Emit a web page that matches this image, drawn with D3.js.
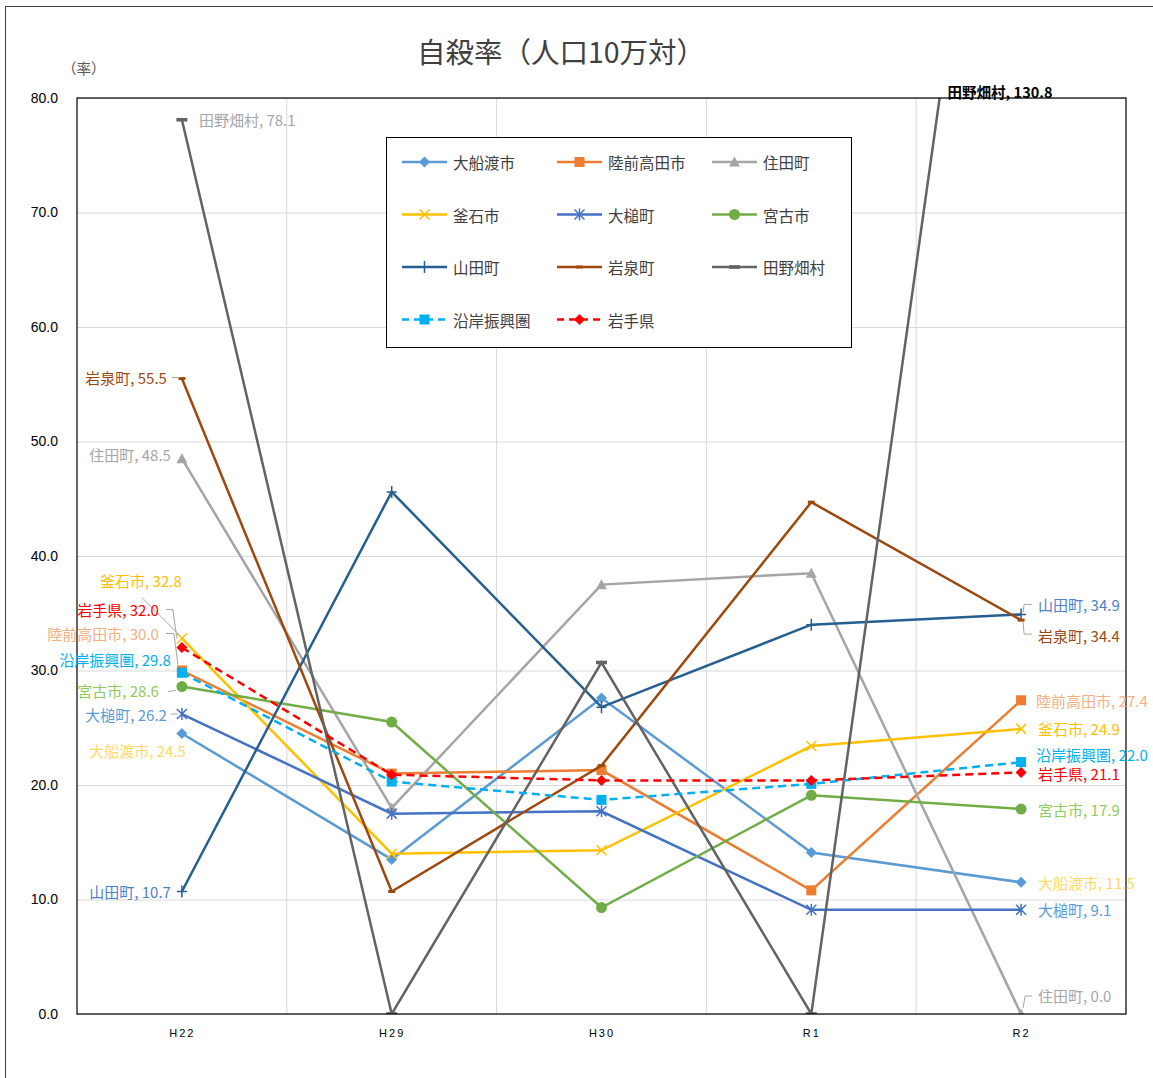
<!DOCTYPE html>
<html>
<head>
<meta charset="utf-8">
<script src="https://cdn.jsdelivr.net/npm/d3@7"></script>
<style>
  body { margin: 0; background: #fff; }
  svg { font-family: "Noto Sans CJK JP", "Noto Sans", sans-serif; }
  .grid line { stroke: #d9d9d9; stroke-width: 1; }
  .grid .domain { display: none; }
  .y-axis text { font-size: 14px; fill: #000; }
  .x-axis text { font-size: 11px; fill: #000; letter-spacing: 2px; }
  .label { font-size: 15px; dominant-baseline: central; }
  .leader { fill: none; stroke: #a6a6a6; stroke-width: 1; }
</style>
</head>
<body>
<div id="wrapper"></div>
<script>
// 1. Data

const categories = ["H22", "H29", "H30", "R1", "R2"];
const seriesNames = ["大船渡市", "陸前高田市", "住田町", "釜石市", "大槌町", "宮古市",
                     "山田町", "岩泉町", "田野畑村", "沿岸振興圏", "岩手県"];

const ofunato      = [24.5, 13.5, 27.6, 14.1, 11.5];
const rikuzentakata= [30.0, 21.0, 21.3, 10.8, 27.4];
const sumita       = [48.5, 18.0, 37.5, 38.5, 0.0];
const kamaishi     = [32.8, 14.0, 14.3, 23.4, 24.9];
const otsuchi      = [26.2, 17.5, 17.7, 9.1, 9.1];
const miyako       = [28.6, 25.5, 9.3, 19.1, 17.9];
const yamada       = [10.7, 45.6, 26.8, 34.0, 34.9];
const iwaizumi     = [55.5, 10.7, 21.7, 44.7, 34.4];
const tanohata     = [78.1, 0.0, 30.7, 0.0, 130.8];
const engan        = [29.8, 20.3, 18.7, 20.1, 22.0];
const iwate        = [32.0, 20.9, 20.4, 20.4, 21.1];

const seriesValues = [ofunato, rikuzentakata, sumita, kamaishi, otsuchi, miyako,
                      yamada, iwaizumi, tanohata, engan, iwate];

// styles per series
const lineColors  = ["#5b9bd5", "#ed7d31", "#a5a5a5", "#ffc000", "#4472c4", "#70ad47",
                     "#255e91", "#9e480e", "#636363", "#00b0f0", "#ff0000"];
const labelColors = ["#ffd966", "#f4b183", "#a6a6a6", "#ffc000", "#5b9bd5", "#8fcb5e",
                     "#4f81c9", "#9e480e", "#a6a6a6", "#00b0f0", "#ff0000"];
const markerTypes = ["diamond", "square", "triangle", "x", "asterisk", "circle",
                     "plus", "smallbar", "bar", "square", "diamond"];
const dashed      = [false, false, false, false, false, false, false, false, false, true, true];

// label placement for first (H22) and last (R2) points, offsets from the point
const firstLabels = [
  { dx: 4,   dy: 17,  anchor: "end" },
  { dx: -23, dy: -37, anchor: "end", leader: [[-16, -37], [-8, -37], [-4, -6]] },
  { dx: -11, dy: -4,  anchor: "end" },
  { dx: -41, dy: -58, anchor: "middle", leader: [[-40, -41], [-2, -3]] },
  { dx: -15, dy: 0,   anchor: "end", leader: [[-11, 0], [-4, 0]] },
  { dx: -23, dy: 4,   anchor: "end", leader: [[-14, 5], [-6, 4]] },
  { dx: -11, dy: 0,   anchor: "end" },
  { dx: -15, dy: -1,  anchor: "end", leader: [[-10, -1], [-2, -1]] },
  { dx: 17,  dy: 0,   anchor: "start" },
  { dx: -11, dy: -13, anchor: "end" },
  { dx: -23, dy: -38, anchor: "end", leader: [[-16, -38], [-9, -38], [-5, -9]] },
];
const lastLabels = [
  { dx: 17, dy: 0 },
  { dx: 15, dy: 0 },
  { dx: 17, dy: -19, leader: [[2, -6], [4, -18], [11, -18]] },
  { dx: 17, dy: 0 },
  { dx: 17, dy: 0 },
  { dx: 17, dy: 0 },
  { dx: 17, dy: -10, leader: [[2, -2], [3, -10], [11, -10]] },
  { dx: 17, dy: 15,  leader: [[2, 2], [3, 14], [11, 14]] },
  null, // off-chart value, placed at the top edge
  { dx: 15, dy: -8 },
  { dx: 17, dy: 1 },
];

// 2. Dimensions

const dimensions = {
  width: 1153,
  height: 1078,
  margin: { top: 98, right: 27, bottom: 64, left: 77 },
};
dimensions.boundedWidth = dimensions.width - dimensions.margin.left - dimensions.margin.right;
dimensions.boundedHeight = dimensions.height - dimensions.margin.top - dimensions.margin.bottom;

// 3. Canvas

const wrapper = d3.select("#wrapper")
  .append("svg")
    .attr("width", dimensions.width)
    .attr("height", dimensions.height);

wrapper.append("rect")
    .attr("x", 5.5).attr("y", 6.5)
    .attr("width", 1300).attr("height", 1300)
    .attr("fill", "none")
    .attr("stroke", "#404040");

wrapper.append("text")
    .attr("x", 561).attr("y", 50)
    .attr("text-anchor", "middle")
    .attr("dominant-baseline", "central")
    .style("font-size", "28.5px")
    .attr("fill", "#404040")
    .text("自殺率（人口10万対）");

wrapper.append("text")
    .attr("x", 62).attr("y", 67)
    .attr("dominant-baseline", "central")
    .style("font-size", "14.5px")
    .attr("fill", "#595959")
    .text("（率）");

const bounds = wrapper.append("g")
    .attr("transform", `translate(${dimensions.margin.left}, ${dimensions.margin.top})`);

bounds.append("clipPath")
    .attr("id", "plot-clip")
  .append("rect")
    .attr("width", dimensions.boundedWidth)
    .attr("height", dimensions.boundedHeight);

// 4. Scales

const xScale = d3.scalePoint()
  .domain(categories)
  .range([0, dimensions.boundedWidth])
  .padding(0.5);

const yScale = d3.scaleLinear()
  .domain([0, 80])
  .range([dimensions.boundedHeight, 0]);

const yTicks = d3.range(0, 81, 10);

// 5. Gridlines + axes

bounds.append("g")
    .attr("class", "grid")
  .call(d3.axisLeft(yScale).tickValues(yTicks).tickSize(-dimensions.boundedWidth).tickFormat(""));

const step = xScale.step();
bounds.append("g")
    .attr("class", "grid")
  .selectAll("line")
  .data(categories.slice(0, -1))
  .join("line")
    .attr("x1", d => xScale(d) + step / 2)
    .attr("x2", d => xScale(d) + step / 2)
    .attr("y1", 0)
    .attr("y2", dimensions.boundedHeight);

const yAxis = bounds.append("g")
    .attr("class", "y-axis")
  .call(d3.axisLeft(yScale).tickValues(yTicks).tickFormat(d3.format(".1f")).tickSize(0).tickPadding(19));
yAxis.select(".domain").remove();

const xAxis = bounds.append("g")
    .attr("class", "x-axis")
    .attr("transform", `translate(0, ${dimensions.boundedHeight})`)
  .call(d3.axisBottom(xScale).tickSize(0).tickPadding(15));
xAxis.select(".domain").remove();

// 6. Lines

const lineGenerator = d3.line()
  .x((d, i) => xScale(categories[i]))
  .y(d => yScale(d));

const series = seriesNames.map((name, i) => ({ name, values: seriesValues[i], i }));

const markerPath = (type) => {
  switch (type) {
    case "diamond":  return "M0,-5.5L5.5,0L0,5.5L-5.5,0Z";
    case "square":   return "M-5,-5H5V5H-5Z";
    case "triangle": return "M0,-5.5L5.5,4.5H-5.5Z";
    case "x":        return "M-5,-5L5,5M-5,5L5,-5";
    case "asterisk": return "M-5,-5L5,5M-5,5L5,-5M0,-6V6";
    case "plus":     return "M-5,0H5M0,-6V6";
    case "smallbar": return "M-3.5,-1.5H3.5V1.5H-3.5Z";
    case "bar":      return "M-5.5,-1.8H5.5V1.8H-5.5Z";
    default: return null;
  }
};
const strokeOnly = t => t === "x" || t === "asterisk" || t === "plus";

const drawMarker = (sel, i) => {
  const t = markerTypes[i];
  if (t === "circle") {
    sel.append("circle").attr("r", 5.5).attr("fill", lineColors[i]);
  } else {
    sel.append("path")
        .attr("d", markerPath(t))
        .attr("fill", strokeOnly(t) ? "none" : lineColors[i])
        .attr("stroke", strokeOnly(t) ? lineColors[i] : "none")
        .attr("stroke-width", 1.5);
  }
};

const plot = bounds.append("g").attr("clip-path", "url(#plot-clip)");

series.forEach(s => {
  const g = plot.append("g");
  g.append("path")
      .attr("d", lineGenerator(s.values))
      .attr("fill", "none")
      .attr("stroke", lineColors[s.i])
      .attr("stroke-width", 2.5)
      .attr("stroke-dasharray", dashed[s.i] ? "8,5" : null);
  s.values.forEach((v, k) => {
    const m = g.append("g")
        .attr("transform", `translate(${xScale(categories[k])}, ${yScale(v)})`);
    drawMarker(m, s.i);
  });
});

// plot border
bounds.append("rect")
    .attr("width", dimensions.boundedWidth)
    .attr("height", dimensions.boundedHeight)
    .attr("fill", "none")
    .attr("stroke", "#000")
    .attr("stroke-width", 1.2);

// 7. Data labels

const labels = bounds.append("g");
const fmt = d3.format(".1f");

series.forEach(s => {
  const pos = [[0, firstLabels[s.i]], [categories.length - 1, lastLabels[s.i]]];
  pos.forEach(([k, p]) => {
    const px = xScale(categories[k]);
    const py = yScale(s.values[k]);
    if (!p) {
      // value off the top of the chart: put label where the line leaves the plot
      const x0 = xScale(categories[k - 1]), y0 = yScale(s.values[k - 1]);
      const t = (y0 - 0) / (y0 - py);
      const xTop = x0 + (px - x0) * t;
      labels.append("text")
          .attr("class", "label")
          .attr("x", xTop + 8)
          .attr("y", -7)
          .attr("fill", "#000")
          .style("font-weight", "bold")
          .style("font-size", "14.5px")
          .text(`${s.name}, ${fmt(s.values[k])}`);
      return;
    }
    if (p.leader) {
      labels.append("path")
          .attr("class", "leader")
          .attr("d", d3.line()(p.leader.map(([a, b]) => [px + a, py + b])));
    }
    labels.append("text")
        .attr("class", "label")
        .attr("x", px + p.dx)
        .attr("y", py + p.dy)
        .attr("text-anchor", p.anchor || "start")
        .attr("fill", labelColors[s.i])
        .text(`${s.name}, ${fmt(s.values[k])}`);
  });
});

// 8. Legend

const legendBox = { x: 386, y: 137, w: 465, h: 210 };
const legend = wrapper.append("g");
legend.append("rect")
    .attr("x", legendBox.x + 0.5).attr("y", legendBox.y + 0.5)
    .attr("width", legendBox.w).attr("height", legendBox.h)
    .attr("fill", "#fff")
    .attr("stroke", "#000");

const legendItems = legend.selectAll(".legend-item")
  .data(series)
  .join("g")
    .attr("transform", d => `translate(${legendBox.x + 16 + (d.i % 3) * 155}, ${legendBox.y + 25 + Math.floor(d.i / 3) * 52.5})`);

legendItems.each(function(d) {
  const g = d3.select(this);
  g.append("line")
      .attr("x1", 0).attr("x2", 45)
      .attr("stroke", lineColors[d.i])
      .attr("stroke-width", 2.5)
      .attr("stroke-dasharray", dashed[d.i] ? "7,5" : null);
  const m = g.append("g").attr("transform", "translate(22.5, 0)");
  drawMarker(m, d.i);
  g.append("text")
      .attr("x", 51)
      .attr("dominant-baseline", "central")
      .style("font-size", "15.5px")
      .attr("fill", "#404040")
      .text(d.name);
});
</script>
</body>
</html>
